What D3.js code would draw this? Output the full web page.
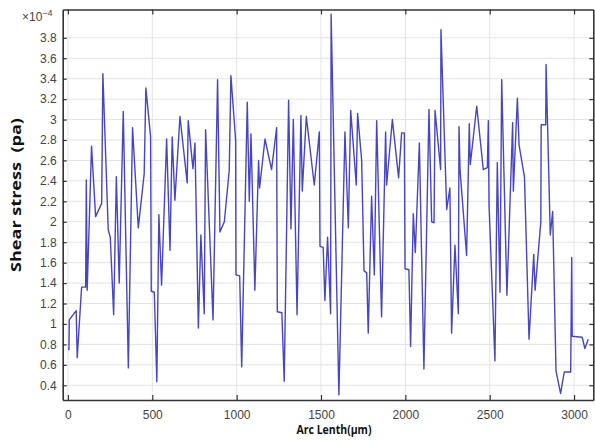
<!DOCTYPE html>
<html>
<head>
<meta charset="utf-8">
<script src="https://cdn.jsdelivr.net/npm/d3@7/dist/d3.min.js"></script>
<style>
  html, body { margin: 0; padding: 0; background: #fff; }
  svg { display: block; }
</style>
</head>
<body>
<svg id="chart" width="595" height="441"></svg>
<script>
// ---- data ----
const arcLength = [0, 6, 8, 49, 55, 81, 101, 105, 109, 114, 140, 164, 200, 207, 239, 251, 271, 287, 304, 328,
  358, 383, 417, 452, 462, 490, 494, 512, 527, 539, 555, 585, 605, 618, 634, 664, 707, 713, 741, 753,
  773, 788, 808, 816, 860, 887, 901, 927, 956, 966, 994, 996, 1018, 1030, 1063, 1075, 1085, 1108, 1130, 1136,
  1168, 1207, 1237, 1241, 1268, 1282, 1308, 1322, 1336, 1358, 1381, 1389, 1413, 1460, 1490, 1494, 1513, 1523, 1539, 1557,
  1560, 1606, 1642, 1662, 1676, 1709, 1717, 1741, 1755, 1771, 1780, 1800, 1816, 1830, 1859, 1883, 1889, 1923, 1960, 1978,
  1994, 1998, 2021, 2031, 2047, 2059, 2083, 2110, 2140, 2156, 2170, 2176, 2209, 2211, 2245, 2264, 2274, 2294, 2314, 2318,
  2324, 2363, 2379, 2385, 2423, 2462, 2486, 2492, 2496, 2531, 2545, 2561, 2571, 2602, 2636, 2640, 2664, 2674, 2706, 2733,
  2761, 2769, 2803, 2805, 2832, 2834, 2859, 2873, 2893, 2920, 2942, 2980, 2986, 2989, 3048, 3064, 3084];
const shearStress = [0.75, 0.75, 1.04, 1.13, 0.67, 1.36, 1.36, 1.36, 2.41, 1.33, 2.74, 2.05, 2.18, 3.45, 1.92, 1.85, 1.09, 2.44, 1.40, 3.08,
  0.57, 2.92, 1.94, 2.47, 3.31, 2.83, 1.32, 1.31, 0.435, 2.07, 1.38, 2.81, 1.72, 2.83, 2.21, 3.03, 2.38, 2.99, 2.52, 2.77,
  0.96, 1.87, 1.10, 2.90, 1.04, 3.39, 1.90, 2.00, 2.50, 3.43, 2.80, 1.48, 1.47, 0.58, 3.17, 2.20, 2.86, 1.33, 2.60, 2.33,
  2.81, 2.51, 2.92, 1.12, 1.11, 0.44, 3.19, 1.93, 3.00, 1.09, 3.04, 2.30, 3.03, 2.36, 2.88, 1.76, 1.75, 1.23, 1.85, 1.10,
  4.03, 0.305, 2.88, 1.94, 3.09, 2.36, 3.06, 2.60, 1.52, 1.50, 0.91, 2.25, 1.48, 2.99, 1.07, 2.88, 2.36, 3.00, 2.43, 2.87,
  2.87, 1.54, 1.53, 0.78, 2.08, 1.70, 2.77, 0.56, 3.10, 2.00, 1.99, 3.09, 2.51, 3.88, 2.12, 2.33, 0.91, 1.77, 1.10, 2.93,
  2.51, 1.67, 2.96, 2.56, 3.13, 2.51, 2.53, 2.99, 2.16, 0.64, 2.58, 1.31, 3.39, 1.28, 2.97, 2.30, 3.21, 2.75, 2.44, 0.85,
  1.68, 1.33, 2.00, 2.95, 2.95, 3.54, 1.87, 2.10, 0.54, 0.32, 0.53, 0.53, 1.65, 0.88, 0.87, 0.76, 0.85];
const xTicks = [0, 500, 1000, 1500, 2000, 2500, 3000];
const yTicks = [0.4, 0.6, 0.8, 1.0, 1.2, 1.4, 1.6, 1.8, 2.0, 2.2, 2.4, 2.6, 2.8, 3.0, 3.2, 3.4, 3.6, 3.8];
const xTitle = "Arc Lenth(μm)";
const yTitle = "Shear stress  (pa)";
const yExponent = "−4";

// ---- layout ----
const svg = d3.select("#chart");
const L = 62.7, R = 593.3, T = 9.5, B = 400;
const x = d3.scaleLinear().domain([-31, 3114]).range([L, R]);
const y = d3.scaleLinear().domain([0.256, 4.077]).range([B, T]);

const fmt = v => (Math.abs(v - Math.round(v)) < 1e-9) ? String(Math.round(v)) : v.toFixed(1);

// grid
const grid = svg.append("g").attr("stroke", "#e3e3e3").attr("stroke-width", 1);
grid.selectAll("line.gx").data(xTicks).join("line")
  .attr("x1", d => x(d)).attr("x2", d => x(d)).attr("y1", T).attr("y2", B);
grid.selectAll("line.gy").data(yTicks).join("line")
  .attr("x1", L).attr("x2", R).attr("y1", d => y(d)).attr("y2", d => y(d));

// data line
const line = d3.line().x((d, i) => x(arcLength[i])).y(d => y(d));
svg.append("path").datum(shearStress)
  .attr("d", line)
  .attr("fill", "none")
  .attr("stroke", "#4646c4")
  .attr("stroke-width", 1.4)
  .attr("stroke-linejoin", "round");

// axes (ticks pointing inwards)
const axisColor = "#333";
const gB = svg.append("g").attr("transform", `translate(0,${B})`)
  .call(d3.axisBottom(x).tickValues(xTicks).tickSizeInner(-5).tickSizeOuter(0).tickPadding(10).tickFormat(d => d));
const gT = svg.append("g").attr("transform", `translate(0,${T})`)
  .call(d3.axisTop(x).tickValues(xTicks).tickSizeInner(-5).tickSizeOuter(0).tickFormat(""));
const gL = svg.append("g").attr("transform", `translate(${L},0)`)
  .call(d3.axisLeft(y).tickValues(yTicks).tickSizeInner(-4).tickSizeOuter(0).tickPadding(6).tickFormat(fmt));
const gR = svg.append("g").attr("transform", `translate(${R},0)`)
  .call(d3.axisRight(y).tickValues(yTicks).tickSizeInner(-4).tickSizeOuter(0).tickFormat(""));

[gB, gT, gL, gR].forEach(g => {
  g.select(".domain").attr("stroke", axisColor).attr("stroke-width", 1.6);
  g.selectAll(".tick line").attr("stroke", axisColor).attr("stroke-width", 1.2);
  g.selectAll(".tick text").attr("fill", "#444")
    .style("font-family", "'Liberation Sans', Arial, sans-serif").style("font-size", "12px");
});
gB.selectAll(".tick text").attr("dy", "0.71em");

// exponent label
const ex = svg.append("text").attr("x", 22).attr("y", 21)
  .attr("fill", "#444")
  .style("font-family", "'Liberation Sans', Arial, sans-serif").style("font-size", "12px");
ex.append("tspan").text("×10");
ex.append("tspan").attr("dy", -5).style("font-size", "9px").text(yExponent);

// axis titles
svg.append("text")
  .attr("transform", "translate(21,195) rotate(-90)")
  .attr("text-anchor", "middle")
  .attr("fill", "#111")
  .attr("textLength", 154).attr("lengthAdjust", "spacingAndGlyphs")
  .style("white-space", "pre")
  .style("font-family", "'Open Sans', 'DejaVu Sans', sans-serif")
  .style("font-weight", "bold").style("font-size", "14px")
  .text(yTitle);

svg.append("text")
  .attr("x", 334).attr("y", 434)
  .attr("text-anchor", "middle")
  .attr("fill", "#111")
  .attr("textLength", 75).attr("lengthAdjust", "spacingAndGlyphs")
  .style("font-family", "'Open Sans', 'DejaVu Sans', sans-serif")
  .style("font-weight", "bold").style("font-size", "13px")
  .text(xTitle);
</script>
</body>
</html>
